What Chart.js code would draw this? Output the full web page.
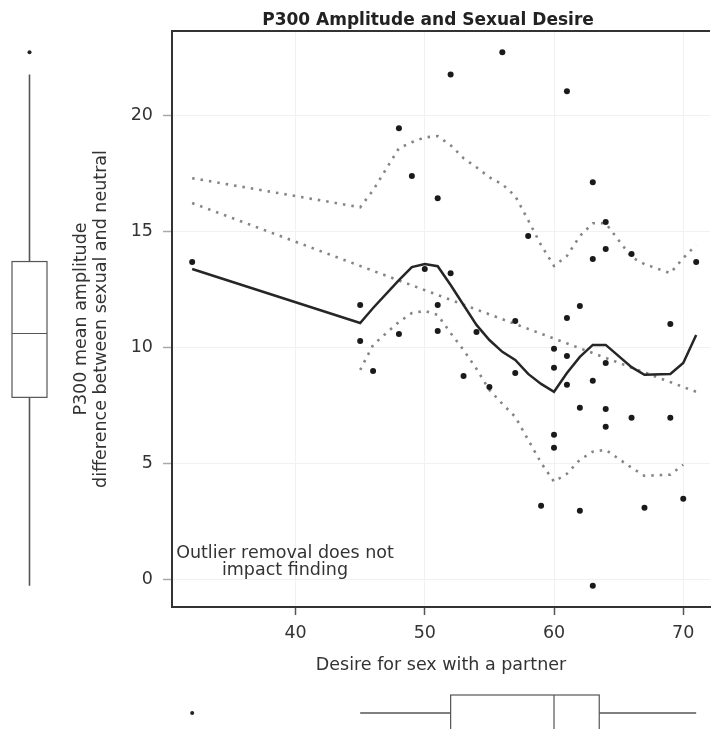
<!DOCTYPE html>
<html>
<head>
<meta charset="utf-8">
<script src="https://cdn.jsdelivr.net/npm/chart.js@4.4.1/dist/chart.umd.min.js"></script>
<style>
html,body{margin:0;padding:0;background:#fff;}
#wrap{width:714px;height:729px;position:relative;}
</style>
</head>
<body>
<div id="wrap"><canvas id="c"></canvas></div>
<script>
// ---- data ----
const desireX = [32,45,45,46,48,48,49,50,51,51,51,52,52,53,54,55,56,57,57,58,59,60,60,60,60,61,61,61,61,62,62,62,63,63,63,63,64,64,64,64,64,66,66,67,69,69,70,71];
const p300Y   = [13.68,11.83,10.28,8.99,10.58,19.44,17.38,13.38,16.43,11.83,10.71,21.76,13.20,8.77,10.67,8.30,22.71,11.14,8.90,14.80,3.18,9.94,9.12,6.24,5.68,21.03,11.27,9.63,8.39,11.78,7.40,2.97,17.12,13.81,8.56,-0.26,15.40,14.24,9.33,7.35,6.58,14.02,6.97,3.10,11.01,6.97,3.48,13.68];

const fitX   = [32,45,46,48,49,50,51,52,53,54,55,56,57,58,59,60,61,62,63,64,66,67,69,70,71];
const loessY = [13.38,11.05,11.70,12.90,13.46,13.59,13.50,12.69,11.83,10.97,10.32,9.81,9.46,8.86,8.43,8.09,8.90,9.59,10.11,10.11,9.15,8.82,8.86,9.33,10.54];
const upperY = [17.29,16.04,16.77,18.58,18.84,19.05,19.10,18.71,18.15,17.76,17.33,17.03,16.52,15.48,14.41,13.51,13.94,14.80,15.35,15.35,13.89,13.59,13.20,13.85,14.41];
const lowerX = [45,46,48,49,50,51,52,53,54,55,56,57,58,59,60,61,62,63,64,66,67,69,70];
const lowerY = [9.03,10.11,11.10,11.48,11.57,11.40,10.62,9.89,9.08,8.17,7.57,7.01,6.02,5.03,4.22,4.56,5.16,5.51,5.59,4.82,4.47,4.52,4.95];
const regX = [32,71];
const regY = [16.22,8.09];

const xTicks = [40,50,60,70];
const yTicks = [0,5,10,15,20];

// boxplot stats: [min, q1, median, q3, max]
const yBox = [-0.26,7.85,10.6,13.7,21.76];
const yOut = [22.71];
const xBox = [45,52,60,63.5,71];
const xOut = [32];

const titleText = 'P300 Amplitude and Sexual Desire';
const xTitle = 'Desire for sex with a partner';
const yTitle = ['P300 mean amplitude','difference between sexual and neutral'];
const note = ['Outlier removal does not','impact finding'];

// ---- helpers ----
const pts = (xs, ys) => xs.map((x,i)=>({x:x, y:ys[i]}));
const FONT = 'DejaVu Sans';

const extras = {
  id: 'extras',
  afterDraw(chart) {
    const c = chart.ctx, a = chart.chartArea, xs = chart.scales.x, ys = chart.scales.y;
    c.save();
    // top frame line
    c.strokeStyle = '#333'; c.lineWidth = 2;
    c.beginPath(); c.moveTo(a.left - 1, a.top); c.lineTo(a.right, a.top); c.stroke();

    // title
    c.fillStyle = '#222';
    c.font = 'bold 17px "' + FONT + '"';
    c.textAlign = 'center'; c.textBaseline = 'alphabetic';
    c.fillText(titleText, 428, 25);

    // note
    c.fillStyle = '#333';
    c.font = '17.5px "' + FONT + '"';
    c.fillText(note[0], 285, 558);
    c.fillText(note[1], 285, 575);

    // left (vertical) boxplot on the y scale
    const cx = 29.5, hw = 17.5;
    const py = yBox.map(v => ys.getPixelForValue(v));
    c.strokeStyle = '#555'; c.lineWidth = 1.6;
    c.beginPath();
    c.moveTo(cx, py[4]); c.lineTo(cx, py[3]);
    c.moveTo(cx, py[1]); c.lineTo(cx, py[0]);
    c.stroke();
    c.lineWidth = 1.2;
    c.strokeRect(cx - hw, py[3], hw * 2, py[1] - py[3]);
    c.beginPath(); c.moveTo(cx - hw, py[2]); c.lineTo(cx + hw, py[2]); c.stroke();
    c.fillStyle = '#222';
    yOut.forEach(v => { c.beginPath(); c.arc(cx, ys.getPixelForValue(v), 2, 0, Math.PI*2); c.fill(); });

    // bottom (horizontal) boxplot on the x scale
    const cy = 713, hh = 18;
    const px = xBox.map(v => xs.getPixelForValue(v));
    c.lineWidth = 1.4;
    c.beginPath();
    c.moveTo(px[0], cy); c.lineTo(px[1], cy);
    c.moveTo(px[3], cy); c.lineTo(px[4], cy);
    c.stroke();
    c.lineWidth = 1.2;
    c.strokeRect(px[1], cy - hh, px[3] - px[1], hh * 2);
    c.beginPath(); c.moveTo(px[2], cy - hh); c.lineTo(px[2], cy + hh); c.stroke();
    xOut.forEach(v => { c.beginPath(); c.arc(xs.getPixelForValue(v), cy, 2, 0, Math.PI*2); c.fill(); });
    c.restore();
  }
};

const dotted = { showLine:true, pointRadius:0, borderColor:'#858585', borderWidth:2.6, borderDash:[2.5,6], borderCapStyle:'butt', tension:0, fill:false };

new Chart(document.getElementById('c'), {
  type: 'scatter',
  data: {
    datasets: [
      { label:'points', data: pts(desireX, p300Y), pointRadius:3, pointBackgroundColor:'#1a1a1a', pointBorderWidth:0, showLine:false, order:0 },
      Object.assign({ label:'upper', data: pts(fitX, upperY), order:3 }, dotted),
      Object.assign({ label:'lower', data: pts(lowerX, lowerY), order:3 }, dotted),
      Object.assign({ label:'linear', data: pts(regX, regY), order:3 }, dotted),
      { label:'loess', data: pts(fitX, loessY), showLine:true, pointRadius:0, borderColor:'#262626', borderWidth:2.5, tension:0, order:1 }
    ]
  },
  options: {
    responsive: true,
    maintainAspectRatio: false,
    animation: false,
    devicePixelRatio: 1,
    layout: { padding: { left:60, top:31, right:0, bottom:42 } },
    plugins: { legend:{display:false}, tooltip:{enabled:false}, title:{display:false} },
    scales: {
      x: {
        type:'linear', position:'bottom', min:30.44, max:72.07,
        afterBuildTicks: s => { s.ticks = xTicks.map(v => ({value:v})); },
        afterFit: s => { s.height = 80; },
        ticks: { font:{family:FONT, size:17.5}, color:'#333', padding:8, maxRotation:0, autoSkip:false },
        grid: { color:'#f1f1f1', lineWidth:1, tickColor:'#555', tickLength:8, tickWidth:1.5 },
        border: { display:true, color:'#333', width:2 },
        title: { display:true, text:xTitle, color:'#333', font:{family:FONT, size:17.5, lineHeight:1.2}, padding:{top:0, bottom:11.5} }
      },
      y: {
        type:'linear', position:'left', min:-1.18, max:23.63,
        afterBuildTicks: s => { s.ticks = yTicks.map(v => ({value:v})); },
        afterFit: s => { s.width = 112; },
        ticks: { font:{family:FONT, size:17.5}, color:'#333', padding:10, autoSkip:false },
        grid: { color:'#f1f1f1', lineWidth:1, tickColor:'#aaa', tickLength:9, tickWidth:1.5 },
        border: { display:true, color:'#333', width:2 },
        title: { display:true, text:yTitle, color:'#333', font:{family:FONT, size:17.5, lineHeight:20/17.5}, padding:{top:11, bottom:0} }
      }
    }
  },
  plugins: [extras]
});
</script>
</body>
</html>
